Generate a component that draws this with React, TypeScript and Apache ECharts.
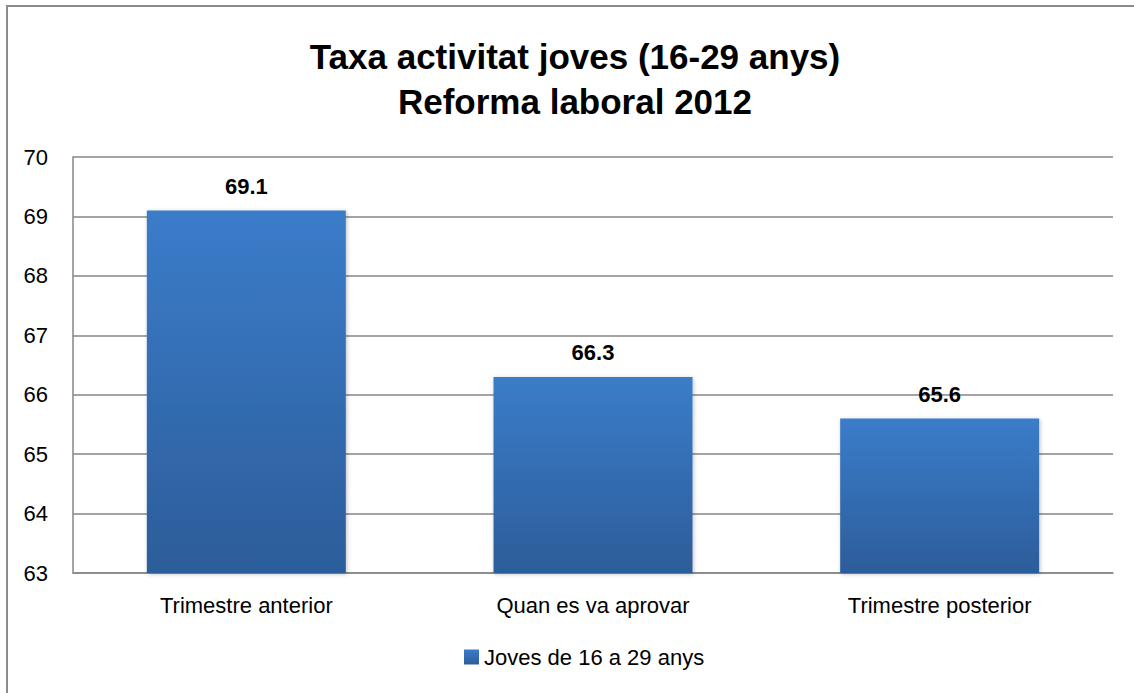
import React, { useEffect, useRef } from "react";
import * as echarts from "echarts";

const categories = ["Trimestre anterior", "Quan es va aprovar", "Trimestre posterior"];
const values = [69.1, 66.3, 65.6];
const seriesName = "Joves de 16 a 29 anys";
const titleLines = ["Taxa activitat joves (16-29 anys)", "Reforma laboral 2012"];

const FONT = "'Liberation Sans', Arial, sans-serif";

export default function App() {
  const ref = useRef<HTMLDivElement>(null);
  useEffect(() => {
    const chart = echarts.init(ref.current!, null, { renderer: "svg" });
    chart.setOption({
      animation: false,
      backgroundColor: "#ffffff",
      textStyle: { fontFamily: FONT },
      graphic: [
        {
          type: "rect",
          shape: { x: 7, y: 6, width: 1140, height: 700 },
          style: { fill: "none", stroke: "#8c8c8c", lineWidth: 2 },
          silent: true,
        },
        ...titleLines.map((t, i) => ({
          type: "text",
          x: 575,
          y: 56 + i * 45,
          style: {
            text: t,
            fontFamily: FONT,
            fontSize: 35,
            fontWeight: "bold",
            fill: "#000",
            textAlign: "center",
            textVerticalAlign: "middle",
          },
          silent: true,
        })),
      ],
      grid: { left: 73, right: 21, top: 157, bottom: 120, containLabel: false },
      legend: {
        bottom: 20,
        left: 459,
        itemWidth: 15,
        itemHeight: 15,
        itemGap: 5,
        icon: "rect",
        textStyle: { fontFamily: FONT, fontSize: 22, color: "#000" },
        data: [seriesName],
      },
      xAxis: {
        type: "category",
        data: categories,
        axisLine: { show: true, lineStyle: { color: "#868686", width: 1.5 } },
        axisTick: { show: false },
        axisLabel: { fontFamily: FONT, fontSize: 22, color: "#000", margin: 21 },
      },
      yAxis: {
        type: "value",
        min: 63,
        max: 70,
        interval: 1,
        axisLine: { show: true, lineStyle: { color: "#868686", width: 1.5 } },
        axisTick: { show: false },
        splitLine: { show: true, lineStyle: { color: "#868686", width: 1.5 } },
        axisLabel: { fontFamily: FONT, fontSize: 22, color: "#000", margin: 25 },
      },
      series: [
        {
          name: seriesName,
          type: "bar",
          data: values,
          barWidth: "57.4%",
          itemStyle: {
            color: new echarts.graphic.LinearGradient(0, 0, 0, 1, [
              { offset: 0, color: "#3b7cca" },
              { offset: 1, color: "#2c5d9a" },
            ]),
            shadowColor: "rgba(0,0,0,0.25)",
            shadowBlur: 4,
            shadowOffsetX: 1,
            shadowOffsetY: 1,
          },
          label: {
            show: true,
            position: "top",
            distance: 13,
            fontFamily: FONT,
            fontSize: 22,
            fontWeight: "bold",
            color: "#000",
            formatter: (p: any) => p.value.toFixed(1),
          },
        },
      ],
    });
    return () => chart.dispose();
  }, []);
  return <div ref={ref} style={{ position: "fixed", left: 0, top: 0, width: 1134, height: 693 }} />;
}
